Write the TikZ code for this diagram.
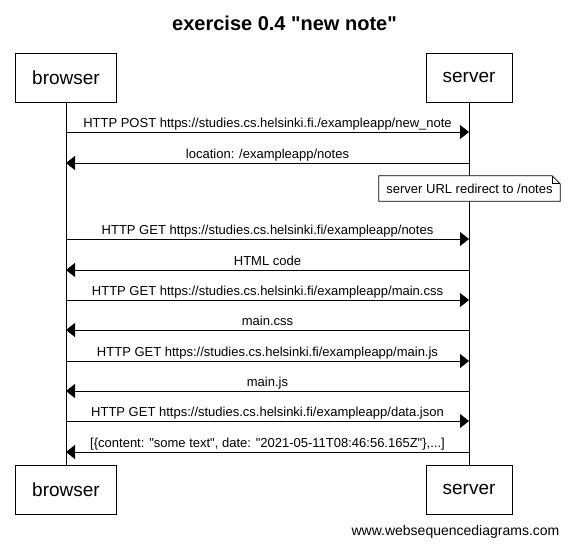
\documentclass[tikz,border=0pt]{standalone}
\usepackage{fontspec}
\setmainfont{Liberation Sans}[Ligatures=TeXOff]
\usetikzlibrary{arrows.meta,backgrounds}
\begin{document}
\begin{tikzpicture}[x=1pt,y=-1pt,
  actor/.style={draw,line width=1pt,fill=white,minimum height=49pt,inner sep=0pt,font=\fontsize{19pt}{22pt}\selectfont},
  life/.style={line width=1pt},
  msg/.style={line width=1pt,-{Triangle[length=9pt,width=14pt]}},
  lbl/.style={midway,anchor=base,yshift=4.3pt,inner sep=0pt,font=\fontsize{13pt}{15pt}\selectfont},
  notetext/.style={minimum width=181pt,minimum height=25pt,inner sep=0pt,font=\fontsize{13pt}{15pt}\selectfont},
  notebox/.style={draw,line width=0.8pt,fill=white}]
\useasboundingbox (0,0) rectangle (569,549);

\node[font=\bfseries\fontsize{20pt}{24pt}\selectfont] (title) at (284.5,23) {exercise 0.4 "new note"};

\node[actor,minimum width=101pt] (topB) at (66,77.5) {browser};
\node[actor,minimum width=86pt] (topS) at (469,77.5) {server};
\node[actor,minimum width=101pt] (botB) at (66,489.5) {browser};
\node[actor,minimum width=86pt] (botS) at (469,489.5) {server};

\node[notetext] (note) at (469.5,188.5) {server URL redirect to /notes};

\begin{scope}[on background layer]
  \fill[white] (0,0) rectangle (569,549);
  \draw[life] (topB.south) -- (botB.north);
  \draw[life] (topS.south) -- (botS.north);
  \draw[notebox] (note.north west) -- ([xshift=-8pt]note.north east) -- ([yshift=-8pt]note.north east) -- (note.south east) -- (note.south west) -- cycle;
  \draw[line width=0.8pt] ([xshift=-8pt]note.north east) |- ([yshift=-8pt]note.north east);
\end{scope}

\foreach \i/\y in {1/132,2/163,3/239,4/270,5/300,6/330,7/361,8/391,9/421,10/452}{
  \coordinate (b\i) at (66,\y);
  \coordinate (s\i) at (469,\y);
}

\draw[msg] (b1) -- node[lbl]{HTTP POST https://studies.cs.helsinki.fi./exampleapp/new\_note} (s1);
\draw[msg] (s2) -- node[lbl]{location: /exampleapp/notes} (b2);
\draw[msg] (b3) -- node[lbl]{HTTP GET https://studies.cs.helsinki.fi/exampleapp/notes} (s3);
\draw[msg] (s4) -- node[lbl]{HTML code} (b4);
\draw[msg] (b5) -- node[lbl]{HTTP GET https://studies.cs.helsinki.fi/exampleapp/main.css} (s5);
\draw[msg] (s6) -- node[lbl]{main.css} (b6);
\draw[msg] (b7) -- node[lbl]{HTTP GET https://studies.cs.helsinki.fi/exampleapp/main.js} (s7);
\draw[msg] (s8) -- node[lbl]{main.js} (b8);
\draw[msg] (b9) -- node[lbl]{HTTP GET https://studies.cs.helsinki.fi/exampleapp/data.json} (s9);
\draw[msg] (s10) -- node[lbl]{[\{content: "some text", date: "2021-05-11T08:46:56.165Z"\},...]} (b10);

\node[font=\fontsize{14pt}{16pt}\selectfont] (wm) at (455.5,532) {www.websequencediagrams.com};
\end{tikzpicture}
\end{document}
